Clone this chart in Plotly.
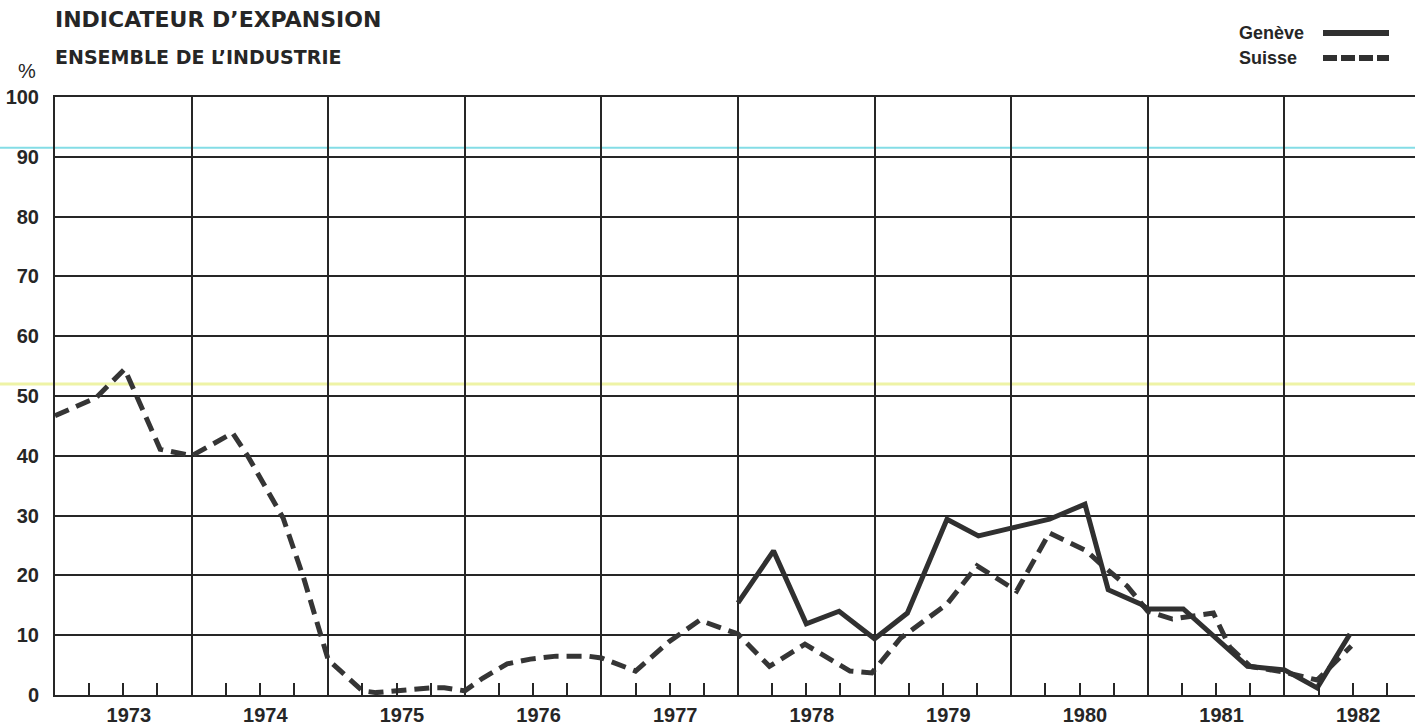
import plotly.graph_objects as go

# ---- data (decimal years, percent) ----
years = [1973, 1974, 1975, 1976, 1977, 1978, 1979, 1980, 1981, 1982]
year_labels = [str(y) for y in years]
y_ticks = [0, 10, 20, 30, 40, 50, 60, 70, 80, 90, 100]

suisse_x = [1973.0, 1973.3, 1973.51, 1973.77, 1974.0, 1974.3, 1974.41, 1974.67, 1974.82,
            1975.0, 1975.25, 1975.35, 1975.75, 1975.85, 1976.0, 1976.13, 1976.31, 1976.48,
            1976.67, 1976.9, 1977.0, 1977.16, 1977.25, 1977.5, 1977.72, 1978.0, 1978.23,
            1978.49, 1978.82, 1978.98, 1979.19, 1979.53, 1979.75, 1980.04, 1980.28,
            1980.55, 1980.65, 1980.85, 1981.0, 1981.18, 1981.48, 1981.6, 1981.75,
            1982.0, 1982.24, 1982.49]
suisse_y = [46.7, 49.7, 54.5, 41.1, 40.0, 43.8, 40.0, 29.6, 19.6,
            5.9, 0.7, 0.4, 1.2, 1.2, 0.7, 2.8, 5.2, 6.0,
            6.5, 6.5, 6.2, 4.8, 4.0, 9.0, 12.5, 10.2, 4.8,
            8.5, 4.0, 3.7, 9.5, 15.2, 21.6, 17.4, 27.1,
            24.1, 22.0, 18.2, 14.0, 12.7, 13.7, 8.0, 4.8,
            3.8, 2.5, 8.2]

geneve_x = [1978.0, 1978.26, 1978.5, 1978.74, 1979.0, 1979.24, 1979.53, 1979.76, 1980.0,
            1980.28, 1980.54, 1980.71, 1980.95, 1981.0, 1981.26, 1981.73, 1982.0, 1982.24,
            1982.48]
geneve_y = [15.4, 24.1, 11.9, 14.0, 9.4, 13.7, 29.4, 26.6, 27.9,
            29.4, 31.9, 17.6, 15.2, 14.4, 14.4, 4.8, 4.2, 1.2,
            10.2]

series_names = ["Genève", "Suisse"]

# ---- layout constants ----
W, H = 1415, 727
L, R, T, B = 55, 0, 97, 32
plot_w = W - L - R
plot_h = H - T - B
year_px = 136.6
x_range = [1973, 1973 + plot_w / year_px]

ink = "#262626"
font_family = "Liberation Sans, Arial, Helvetica, sans-serif"
title_family = "DejaVu Sans, Liberation Sans, Arial, sans-serif"


def px_to_paper_x(px):
    return (px - L) / plot_w


def px_to_paper_y(py):
    return 1 + (T - py) / plot_h


fig = go.Figure()

fig.add_trace(go.Scatter(
    x=suisse_x, y=suisse_y, mode="lines", name=series_names[1],
    line=dict(color="#353535", width=5, dash="15px,8px"),
    xaxis="x", yaxis="y", showlegend=False, hoverinfo="x+y"))

fig.add_trace(go.Scatter(
    x=geneve_x, y=geneve_y, mode="lines", name=series_names[0],
    line=dict(color="#303030", width=5),
    xaxis="x2", yaxis="y", showlegend=False, hoverinfo="x+y"))

quarters = [y + q for y in years for q in (0.25, 0.5, 0.75)]
label_pos = [y + 0.54 for y in years]

fig.update_layout(
    width=W, height=H,
    margin=dict(l=L, r=R, t=T, b=B, autoexpand=False),
    paper_bgcolor="white", plot_bgcolor="white",
    font=dict(family=font_family, color=ink),
    xaxis=dict(
        range=x_range, tickvals=years[1:], ticktext=[""] * (len(years) - 1),
        showgrid=True, gridcolor=ink, gridwidth=2,
        ticks="", showticklabels=False, zeroline=False,
        showline=True, linecolor=ink, linewidth=2, mirror=True,
        minor=dict(tickvals=quarters, ticks="inside", ticklen=12, tickwidth=2,
                   tickcolor=ink, showgrid=False),
    ),
    xaxis2=dict(
        range=x_range, overlaying="x", anchor="y", side="bottom", matches="x",
        tickvals=label_pos, ticktext=year_labels, ticks="", showgrid=False,
        zeroline=False, showline=False, ticklabelstandoff=6,
        tickfont=dict(size=20, color=ink, family=font_family, weight="bold"),
    ),
    yaxis=dict(
        range=[0, 100], tickvals=y_ticks, ticktext=[str(v) for v in y_ticks],
        showgrid=True, gridcolor=ink, gridwidth=2, zeroline=False,
        showline=True, linecolor=ink, linewidth=2, mirror=False, ticks="",
        ticklabelstandoff=10,
        tickfont=dict(size=20, color=ink, family=font_family, weight="bold"),
    ),
)

# scan artefact lines (faint coloured horizontals in the reference)
fig.add_shape(type="line", xref="paper", yref="y", x0=px_to_paper_x(0), x1=1,
              y0=91.5, y1=91.5, line=dict(color="#84dde6", width=2), layer="below")
fig.add_shape(type="line", xref="paper", yref="y", x0=px_to_paper_x(0), x1=1,
              y0=52.0, y1=52.0, line=dict(color="#eef3a6", width=3), layer="below")

# titles
fig.add_annotation(text="INDICATEUR D’EXPANSION", xref="paper", yref="paper",
                   x=px_to_paper_x(53), y=px_to_paper_y(20), xanchor="left", yanchor="middle",
                   showarrow=False, font=dict(size=22, color=ink, family=title_family, weight="bold"))
fig.add_annotation(text="ENSEMBLE DE L’INDUSTRIE", xref="paper", yref="paper",
                   x=px_to_paper_x(53), y=px_to_paper_y(57), xanchor="left", yanchor="middle",
                   showarrow=False, font=dict(size=19, color=ink, family=title_family, weight="bold"))
fig.add_annotation(text="%", xref="paper", yref="paper",
                   x=px_to_paper_x(27), y=px_to_paper_y(71), xanchor="center", yanchor="middle",
                   showarrow=False, font=dict(size=20, color=ink, family=font_family))

# legend (text left, line key right, as in the reference)
legend_rows = [(series_names[0], 33, None), (series_names[1], 58, "14px,4px")]
for name, py, dash in legend_rows:
    fig.add_annotation(text=name, xref="paper", yref="paper",
                       x=px_to_paper_x(1237), y=px_to_paper_y(py), xanchor="left", yanchor="middle",
                       showarrow=False, font=dict(size=18, color=ink, family=font_family, weight="bold"))
    line_style = dict(color="#303030", width=6)
    if dash:
        line_style["dash"] = dash
    fig.add_shape(type="line", xref="paper", yref="paper",
                  x0=px_to_paper_x(1323), x1=px_to_paper_x(1389),
                  y0=px_to_paper_y(py), y1=px_to_paper_y(py), line=line_style)

fig.write_html("out.html", config={"displayModeBar": False},
               post_script="document.body.style.margin='0';document.body.style.overflow='hidden';")
